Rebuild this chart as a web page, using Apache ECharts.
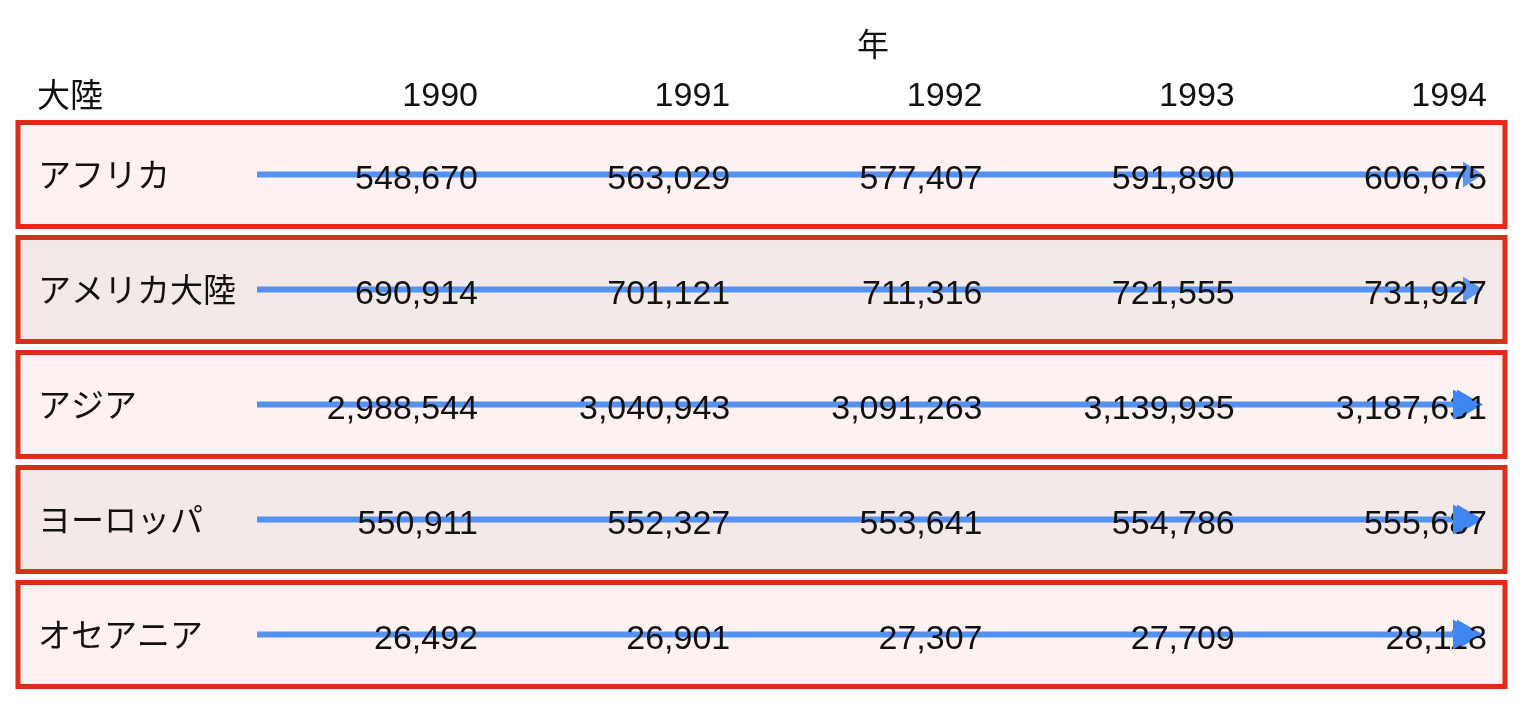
<!DOCTYPE html>
<html><head><meta charset="utf-8">
<script src="https://cdn.jsdelivr.net/npm/echarts@6/dist/echarts.min.js"></script>
<style>html,body{margin:0;padding:0;background:#fff}#c{width:1520px;height:704px}</style>
</head><body><div id="c"></div>
<script>
const years = ['1990','1991','1992','1993','1994'];
const continents = ['アフリカ','アメリカ大陸','アジア','ヨーロッパ','オセアニア'];
const africa   = [548670, 563029, 577407, 591890, 606675];
const americas = [690914, 701121, 711316, 721555, 731927];
const asia     = [2988544, 3040943, 3091263, 3139935, 3187631];
const europe   = [550911, 552327, 553641, 554786, 555687];
const oceania  = [26492, 26901, 27307, 27709, 28118];
const rowsValues = [africa, americas, asia, europe, oceania];

const numFont = '"Liberation Sans", "Noto Sans CJK JP", sans-serif';
const jpFont = '"Noto Sans CJK JP", sans-serif';

const cellData = [];
rowsValues.forEach((vals, r) => vals.forEach((v, c) => cellData.push([c, r, v])));
const rowData = continents.map((n, r) => [0, r]);

const chart = echarts.init(document.getElementById('c'));
chart.setOption({
  animation: false,
  backgroundColor: '#ffffff',
  title: {
    text: '年', left: 868, top: 23, textAlign: 'center',
    textStyle: {fontFamily: jpFont, fontSize: 32, fontWeight: 'normal', color: '#111'}
  },
  graphic: [{
    type: 'text', left: 37, top: 78, z: 100,
    style: {text: '大陸', fontFamily: jpFont, fontSize: 33, fill: '#111'}
  }],
  grid: {left: 478, right: 33, top: 117, bottom: 12},
  xAxis: {
    type: 'category', data: years, boundaryGap: false, position: 'top',
    axisLine: {show: false}, axisTick: {show: false}, splitLine: {show: false},
    axisLabel: {align: 'right', verticalAlign: 'middle', margin: 20, fontSize: 34,
      fontFamily: numFont, color: '#111', interval: 0}
  },
  yAxis: {
    type: 'category', data: continents, inverse: true, z: 10,
    axisLine: {show: false}, axisTick: {show: false}, splitLine: {show: false},
    axisLabel: {align: 'left', margin: 440, fontSize: 33, fontFamily: jpFont, color: '#111',
      padding: [6, 0, 0, 0]}
  },
  series: [
    {
      type: 'custom', z: 1, data: rowData,
      renderItem: function (params, api) {
        const cs = params.coordSys;
        const r = api.value(1);
        const p = api.coord([0, r]);
        const band = api.size([0, 1])[1];
        const h = band - 11;
        const x0 = cs.x - 460, x1 = cs.x + cs.width + 18;
        const fill = r % 2 === 0 ? '#fdf2f1' : '#f3e9e9';
        const endX = api.coord([4, r])[0] - 4;
        const big = r >= 2;
        const hl = big ? 26 : 20, hh = big ? 15 : 13;
        return {
          type: 'group',
          children: [
            {type: 'rect', shape: {x: x0, y: p[1] - h / 2, width: x1 - x0, height: h},
              style: {fill: fill, stroke: '#dd2c17', lineWidth: 5}, z2: 1},
            {type: 'line', shape: {x1: cs.x - 221, y1: p[1], x2: endX - hl + 2, y2: p[1]},
              style: {stroke: '#4a8cf2', lineWidth: 6, opacity: 0.95}, z2: 2},
            {type: 'polygon', shape: {points: [[endX - hl, p[1] - hh], [endX, p[1]], [endX - hl, p[1] + hh]]},
              style: {fill: '#3f86f0', opacity: big ? 1 : 0.85}, z2: big ? 10 : 2}
          ]
        };
      }
    },
    {
      type: 'custom', z: 3, data: cellData,
      renderItem: function (params, api) {
        const p = api.coord([api.value(0), api.value(1)]);
        return {
          type: 'text', x: p[0], y: p[1] + 5, z2: 5,
          style: {text: api.value(2).toLocaleString('en-US'), align: 'right', verticalAlign: 'middle',
            fontFamily: numFont, fontSize: 34, fill: '#111'}
        };
      }
    },
    {
      type: 'custom', z: 4, data: rowData.slice(2),
      renderItem: function (params, api) {
        const r = api.value(1);
        const p = api.coord([4, r]);
        const endX = p[0] - 8;
        return {type: 'polygon', shape: {points: [[endX - 26, p[1] - 15], [endX, p[1]], [endX - 26, p[1] + 15]]},
          style: {fill: '#3f86f0'}};
      }
    }
  ]
});
</script></body></html>
